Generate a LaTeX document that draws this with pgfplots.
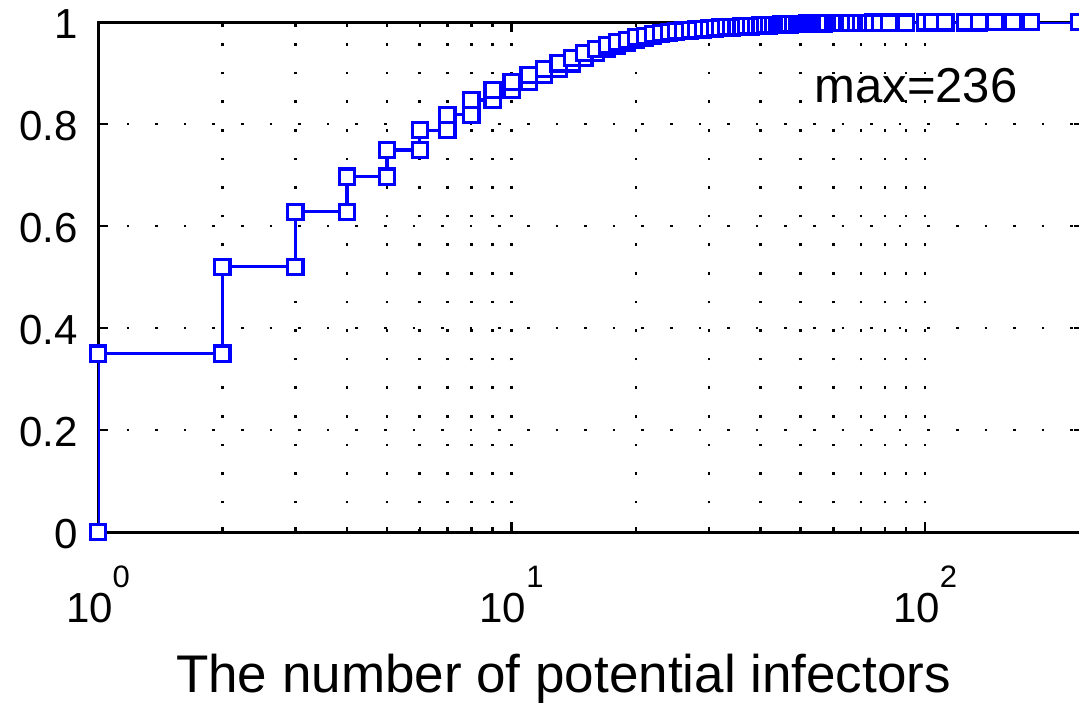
\documentclass[border=0pt]{standalone}
\usepackage{fontspec}
\setmainfont{Liberation Sans}
\usepackage{pgfplots}
\pgfplotsset{compat=1.18}
\usepackage{pgfplotstable}

\definecolor{mblue}{RGB}{0,0,255}

% empirical CDF: each step has value lo before x and hi from x on
\pgfplotstableread{
x lo hi
1 0 0.350
2 0.350 0.520
3 0.520 0.628
4 0.628 0.697
5 0.697 0.749
6 0.749 0.788
7 0.788 0.818
8 0.818 0.847
9 0.847 0.867
10 0.867 0.882
11 0.882 0.896
12 0.896 0.908
13 0.908 0.919
14 0.919 0.929
15 0.929 0.939
16 0.939 0.947
17 0.947 0.954
18 0.954 0.960
19 0.960 0.965
20 0.965 0.970
21 0.970 0.973
22 0.973 0.976
23 0.976 0.978
24 0.978 0.980
25 0.980 0.982
26 0.982 0.983
27 0.983 0.984
28 0.984 0.985
29 0.985 0.986
30 0.986 0.987
31 0.987 0.988
32 0.988 0.989
33 0.989 0.9895
34 0.9895 0.9900
35 0.9900 0.9905
36 0.9905 0.9910
37 0.9910 0.9915
38 0.9915 0.9920
39 0.9920 0.9925
40 0.9925 0.9930
41 0.9930 0.9935
42 0.9935 0.9940
43 0.9940 0.9943
44 0.9943 0.9946
45 0.9946 0.9950
46 0.9950 0.9953
47 0.9953 0.9956
48 0.9956 0.9959
49 0.9959 0.9962
50 0.9962 0.9964
51 0.9964 0.9966
52 0.9966 0.9968
53 0.9968 0.9970
54 0.9970 0.9972
55 0.9972 0.9973
56 0.9973 0.9974
57 0.9974 0.9975
58 0.9975 0.9976
60 0.9976 0.9977
61 0.9977 0.9978
62 0.9978 0.9979
63 0.9979 0.9980
65 0.9980 0.9981
66 0.9981 0.9982
68 0.9982 0.9983
70 0.9983 0.9984
72 0.9984 0.9985
73 0.9985 0.9986
75 0.9986 0.9987
78 0.9987 0.9988
82 0.9988 0.9989
90 0.9989 0.9990
100 0.9990 0.9991
104 0.9991 0.9992
112 0.9992 0.9993
125 0.9993 0.9994
135 0.9994 0.9995
148 0.9995 0.9996
163 0.9996 0.9997
180 0.9997 0.9998
236 0.9998 1.0000
}\cdf

\newcommand{\tenpow}[1]{10\raisebox{17.5pt}{\fontsize{15.5}{15.5}\selectfont #1}}

\begin{document}
\begin{tikzpicture}
\begin{axis}[
    xmode=log,
    scale only axis,
    width=493pt, height=255pt,
    xmin=1, xmax=242.3,
    ymin=0, ymax=1,
    axis line style={line width=1.5pt},
    tick style={black, line width=1.2pt},
    major tick length=5pt,
    minor tick length=2.5pt,
    xtick={1,10,100},
    xticklabels={\tenpow{0},\tenpow{1},\tenpow{2}},
    ytick={0,0.2,0.4,0.6,0.8,1},
    yticklabels={0,0.2,0.4,0.6,0.8,1},
    ticklabel style={font=\fontsize{21}{21}\selectfont},
    xticklabel style={anchor=base, inner sep=0pt, yshift=-45pt},
    yticklabel style={anchor=east, inner sep=0pt, xshift=-10pt, yshift=-1pt},
    grid=both,
    major grid style={black, line width=1.3pt, dash pattern=on 1.3pt off 13pt},
    minor grid style={black, line width=1.3pt, dash pattern=on 1.3pt off 13pt},
    xlabel={The number of potential infectors},
    xlabel style={at={(axis description cs:0.4721,0)}, anchor=base,
        inner sep=0pt, yshift=-80pt, font=\fontsize{26.5}{27}\selectfont},
]
\addplot[mblue, line width=1.6pt, const plot, no marks] table[x=x, y=hi] {\cdf};
\addplot[mblue, line width=1.6pt, no marks] coordinates {(1,0) (1,0.35)};
\addplot[mblue, only marks, mark=square*, mark size=3.8pt,
    mark options={solid, fill=white, line width=1.6pt}] table[x=x, y=lo] {\cdf};
\addplot[mblue, only marks, mark=square*, mark size=3.8pt,
    mark options={solid, fill=white, line width=1.6pt}] table[x=x, y=hi] {\cdf};
\node[anchor=base west, inner sep=0pt, font=\fontsize{24.5}{25}\selectfont]
    at (axis cs:53.9,0.843) {max=236};
\end{axis}
\pgfresetboundingbox
\path[use as bounding box] (-49pt,-85.5pt) rectangle (490.5pt,266pt);
\end{tikzpicture}
\end{document}
